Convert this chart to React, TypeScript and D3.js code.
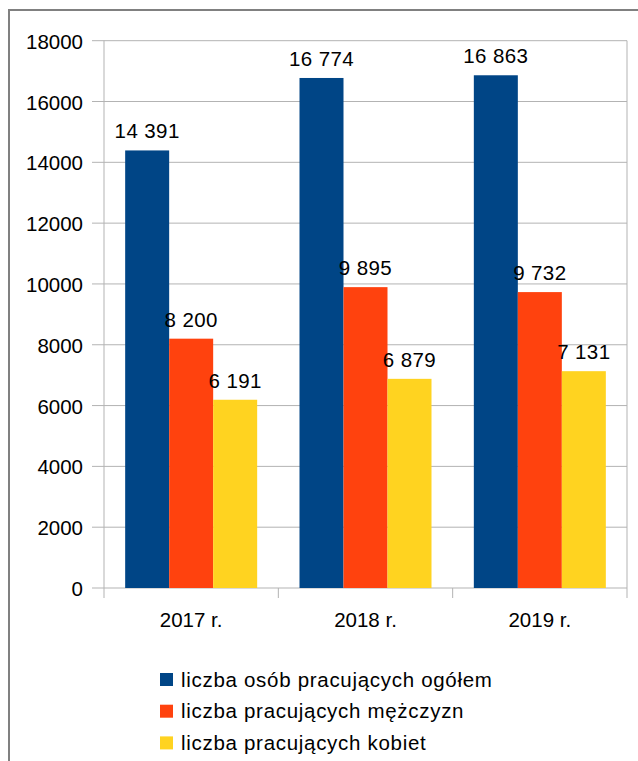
import React from "react";
import * as d3 from "d3";

const categories = ["2017 r.", "2018 r.", "2019 r."];
const seriesNames = [
  "liczba osób pracujących ogółem",
  "liczba pracujących mężczyzn",
  "liczba pracujących kobiet",
];
const total = [14391, 16774, 16863];
const men = [8200, 9895, 9732];
const women = [6191, 6879, 7131];
const yTicks = [0, 2000, 4000, 6000, 8000, 10000, 12000, 14000, 16000, 18000];
const colors = ["#004586", "#ff420e", "#ffd320"];

const fmt = (v: number) => d3.format(",")(v).replace(/,/g, " ");

export default function App() {
  const W = 638, H = 761;
  const left = 104, right = 627, top = 40.7, bottom = 588;
  const series = [total, men, women];
  const x = d3.scaleBand().domain(categories).range([left, right]).paddingInner(0).paddingOuter(0);
  const y = d3.scaleLinear().domain([0, 18000]).range([bottom, top]);
  const groupW = 132;
  const inner = d3.scaleBand().domain(["0", "1", "2"]).range([0, groupW]);
  const font = "'Liberation Sans', Arial, sans-serif";
  const fs = 20.5;
  return (
    <svg width={W} height={H} style={{ position: "absolute", left: 0, top: 0, display: "block" }} fontFamily={font}>
      <rect x={0} y={0} width={W} height={H} fill="#fff" />
      <rect x={9} y={10} width={700} height={800} fill="none" stroke="#808080" strokeWidth={2} />
      {yTicks.map((t) => (
        <g key={t}>
          <line x1={92} x2={right} y1={y(t)} y2={y(t)} stroke="#b3b3b3" strokeWidth={1} />
          <text x={83} y={y(t) + 8} textAnchor="end" fontSize={fs} fill="#000">{t}</text>
        </g>
      ))}
      <line x1={left} x2={left} y1={top} y2={bottom + 10} stroke="#b3b3b3" strokeWidth={1} />
      {categories.map((c, i) => (
        <line key={c} x1={x(c)! + x.bandwidth()} x2={x(c)! + x.bandwidth()} y1={i === 2 ? top : bottom} y2={bottom + 10} stroke="#b3b3b3" strokeWidth={1} />
      ))}
      {categories.map((c, ci) => {
        const gx = x(c)! + (x.bandwidth() - groupW) / 2;
        return (
          <g key={c}>
            {series.map((s, si) => {
              const bx = gx + inner(String(si))!;
              return (
                <g key={si}>
                  <rect x={bx} y={y(s[ci])} width={inner.bandwidth()} height={bottom - y(s[ci])} fill={colors[si]} />
                  <text x={bx + inner.bandwidth() / 2} y={y(s[ci]) - 12} textAnchor="middle" fontSize={fs} letterSpacing={0.4} fill="#000">{fmt(s[ci])}</text>
                </g>
              );
            })}
            <text x={x(c)! + x.bandwidth() / 2} y={627} textAnchor="middle" fontSize={fs} fill="#000">{c}</text>
          </g>
        );
      })}
      {seriesNames.map((n, i) => (
        <g key={n}>
          <rect x={160} y={673 + i * 31.7} width={13} height={13} fill={colors[i]} />
          <text x={181} y={686.5 + i * 31.7} fontSize={fs} letterSpacing={0.7} fill="#000">{n}</text>
        </g>
      ))}
    </svg>
  );
}
